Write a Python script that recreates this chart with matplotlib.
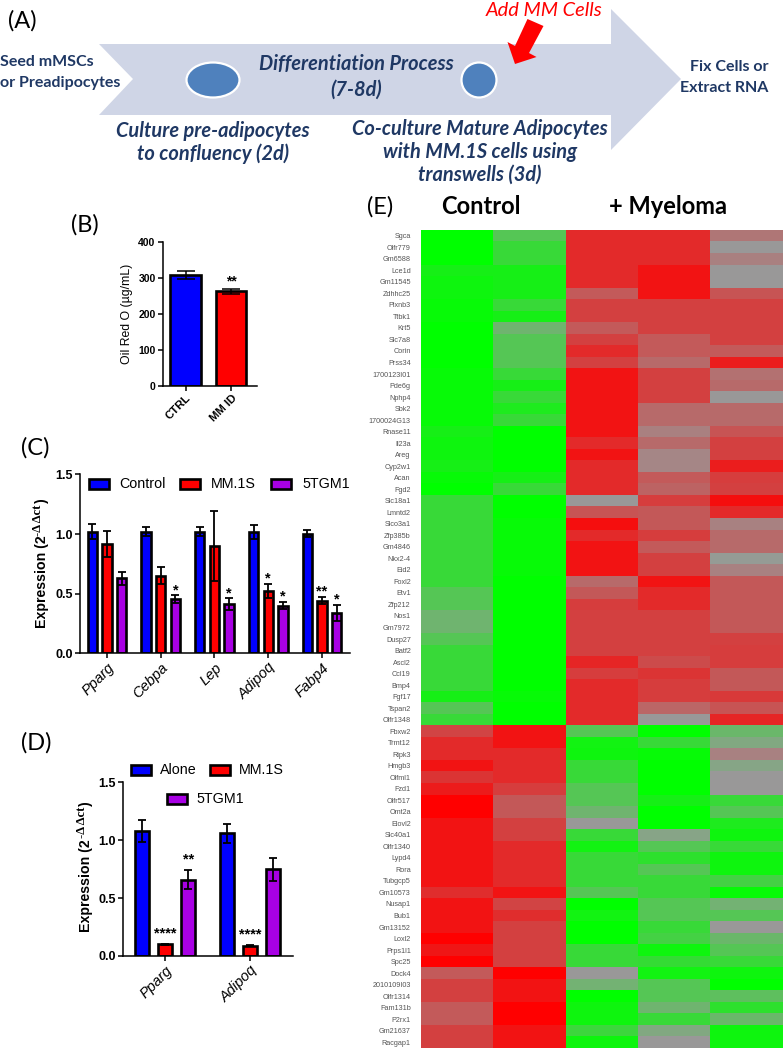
"""Adipocyte / myeloma co-culture figure: schematic, three bar panels and a heatmap."""

import matplotlib
matplotlib.use("Agg")
import matplotlib.pyplot as plt
import numpy as np
from matplotlib.colors import LinearSegmentedColormap
from matplotlib.patches import Ellipse, Polygon, Rectangle

plt.rcParams["font.family"] = ["Liberation Sans", "DejaVu Sans"]

W, H = 783, 1050
BLUE, RED, PURPLE = "#0000FF", "#FF0000", "#A800E4"
NAVY = "#1F3864"

# panel B
b_labels = ["CTRL", "MM ID"]
b_values = [308, 262]
b_errors = [11, 6]

# panel C
c_genes = ["Pparg", "Cebpa", "Lep", "Adipoq", "Fabp4"]
c_series = ["Control", "MM.1S", "5TGM1"]
c_control = [1.02, 1.02, 1.02, 1.02, 1.005]
c_mm1s = [0.92, 0.65, 0.90, 0.52, 0.44]
c_5tgm1 = [0.63, 0.455, 0.41, 0.40, 0.34]
c_control_err = [0.065, 0.04, 0.04, 0.06, 0.03]
c_mm1s_err = [0.11, 0.07, 0.29, 0.06, 0.03]
c_5tgm1_err = [0.055, 0.03, 0.05, 0.03, 0.065]
c_mm1s_stars = ["", "", "", "*", "**"]
c_5tgm1_stars = ["", "*", "*", "*", "*"]

# panel D
d_genes = ["Pparg", "Adipoq"]
d_alone = [1.08, 1.06]
d_mm1s = [0.10, 0.09]
d_5tgm1 = [0.66, 0.75]
d_alone_err = [0.095, 0.08]
d_mm1s_err = [0.005, 0.005]
d_5tgm1_err = [0.085, 0.10]
d_mm1s_stars = ["****", "****"]
d_5tgm1_stars = ["**", ""]

# panel E: positive is red, negative is green, 0 is grey
e_genes = [
    "Sgca", "Olfr779", "Gm6588", "Lce1d", "Gm11545", "Zdhhc25", "Plxnb3", "Ttbk1",
    "Krt5", "Slc7a8", "Corin", "Prss34", "1700123I01", "Pde6g", "Nphp4", "Sbk2",
    "1700024G13", "Rnase11", "Il23a", "Areg", "Cyp2w1", "Acan", "Fgd2", "Slc18a1",
    "Lmntd2", "Slco3a1", "Zfp385b", "Gm4846", "Nkx2-4", "Eid2", "Foxl2", "Etv1",
    "Zfp212", "Nos1", "Gm7972", "Dusp27", "Batf2", "Ascl2", "Ccl19", "Bmp4", "Fgf17",
    "Tspan2", "Olfr1348", "Fbxw2", "Trmt12", "Ripk3", "Hmgb3", "Olfml1", "Fzd1",
    "Olfr517", "Omt2a", "Elovl2", "Slc40a1", "Olfr1340", "Lypd4", "Rora", "Tubgcp5",
    "Gm10573", "Nusap1", "Bub1", "Gm13152", "Loxl2", "Prps1l1", "Spc25", "Dock4",
    "2010109I03", "Olfr1314", "Fam131b", "P2rx1", "Gm21637", "Racgap1",
]
e_matrix = [
    [-1, -.44, .72, .72, .22], [-1, -.63, .72, .72, 0], [-1, -.63, .72, .72, .16],
    [-.85, -.85, .72, .87, 0], [-.9, -.85, .72, .87, 0], [-.9, -.85, .41, .87, .45],
    [-.95, -.63, .575, .575, .575], [-.95, -.85, .575, .575, .575], [-1, -.27, .41, .575, .575],
    [-1, -.44, .575, .41, .575], [-1, -.44, .72, .41, .41], [-1, -.44, .575, .3, .8],
    [-.95, -.63, .87, .575, .25], [-.95, -.85, .87, .575, .3], [-.95, -.63, .87, .575, 0],
    [-.95, -.8, .87, .3, .3], [-.95, -.63, .87, .3, .3], [-.85, -1, .87, .16, .45],
    [-.9, -1, .72, .3, .575], [-.9, -1, .87, .12, .575], [-.85, -1, .72, .12, .8],
    [-.95, -.85, .72, .41, .6], [-1, -.63, .72, .35, .575], [-.63, -1, 0, .6, .9],
    [-.63, -1, .45, .42, .72], [-.63, -.95, .9, .42, .15], [-.63, -.95, .72, .6, .3],
    [-.63, -.95, .87, .41, .3], [-.63, -.95, .87, .575, -.02], [-.63, -.95, .87, .575, .15],
    [-.63, -1, .3, .87, .42], [-.44, -1, .42, .72, .42], [-.44, -1, .6, .72, .42],
    [-.27, -1, .575, .575, .42], [-.27, -1, .575, .575, .42], [-.44, -1, .575, .575, .575],
    [-.63, -1, .575, .575, .6], [-.63, -1, .75, .5, .6], [-.63, -1, .6, .65, .42],
    [-.63, -1, .72, .6, .42], [-.85, -.95, .72, .6, .62], [-.44, -1, .72, .33, .45],
    [-.63, -1, .72, 0, .75], [.55, .87, -.44, -1, -.3], [.72, .87, -.88, -.63, -.15],
    [.72, .72, -.9, -.95, .15], [.87, .72, -.63, -1, -.12], [.65, .72, -.63, -1, 0],
    [.82, .6, -.44, -1, 0], [1, .42, -.44, -.85, -.63], [1, .42, -.27, -1, -.44],
    [.87, .575, 0, -1, -.8], [.87, .575, -.63, -.11, -.9], [.87, .72, -.88, -.44, -.63],
    [.87, .72, -.63, -.7, -.9], [.87, .72, -.63, -.44, -.9], [.87, .72, -.63, -.63, -.55],
    [.7, .87, -.44, -.63, -.95], [.87, .55, -1, -.44, -.25], [.87, .7, -.88, -.44, -.44],
    [.87, .575, -1, -.63, 0], [1, .575, -1, -.55, -.3], [.85, .575, -.63, -.9, -.44],
    [1, .575, -.63, -.65, -.63], [.41, 1, 0, -.88, -.9], [.575, .87, -.25, -.44, -1],
    [.575, .87, -1, -.44, -.38], [.41, 1, -.9, -.27, -.7], [.41, 1, -.9, -.63, -.3],
    [.575, .87, -.6, -.15, -.9], [.575, .87, -.9, 0, -.9],
]


def px_axes(fig, left, top, right, bottom):
    return fig.add_axes([left / W, 1 - bottom / H, (right - left) / W, (bottom - top) / H])


def style_bars(ax, tick_size):
    ax.spines[["top", "right"]].set_visible(False)
    ax.spines[["left", "bottom"]].set_linewidth(1.1)
    ax.tick_params(axis="both", width=1.1, length=3.6, pad=1.5)
    ax.tick_params(axis="y", labelsize=tick_size)
    for t in ax.get_yticklabels():
        t.set_fontweight("bold")


def grouped(ax, values, errors, colors, stars, step_off, width, star_gap):
    for k, (vals, errs, col, st) in enumerate(zip(values, errors, colors, stars)):
        x = np.arange(len(vals)) + (k - 1) * step_off
        ax.bar(x, vals, width, color=col, edgecolor="black", linewidth=1.9)
        ax.errorbar(x, vals, yerr=errs, fmt="none", ecolor="black", elinewidth=1.3,
                    capsize=2.6, capthick=1.3)
        for xi, v, e, s in zip(x, vals, errs, st):
            if s:
                ax.text(xi, v + e + star_gap, s, ha="center", va="center", fontsize=10.5,
                        fontweight="bold")


def main():
    fig = plt.figure(figsize=(W / 100, H / 100), dpi=100)

    # pixel overlay for the schematic, letters and hand-placed legends
    ov = fig.add_axes([0, 0, 1, 1], zorder=5)
    ov.set_xlim(0, W)
    ov.set_ylim(H, 0)
    ov.axis("off")
    ov.patch.set_alpha(0)

    ov.add_patch(Polygon([(99, 44), (611, 44), (611, 9), (681, 79), (611, 150), (611, 115),
                          (99, 115), (133, 79)], closed=True, fc="#CFD5E6", ec="none"))
    ov.add_patch(Ellipse((213, 80), 53, 35, fc="#4F81BD", ec="white", lw=1.6))
    ov.add_patch(Ellipse((479, 80), 35, 35, fc="#4F81BD", ec="white", lw=1.6))
    ov.add_patch(Polygon([(527.5, 19), (543.5, 26), (529, 53), (536.5, 57), (515, 64),
                          (507.5, 42), (515, 46)], closed=True, fc="#FF0000", ec="none"))

    letter = dict(family="Lato", fontsize=17, color="black", va="center")
    ov.text(8, 21, "(A)", **letter)
    ov.text(71, 225, "(B)", **letter)
    ov.text(21, 448, "(C)", **letter)
    ov.text(21, 743, "(D)", **letter)
    ov.text(367, 207, "(E)", **letter)

    ital = dict(family="Lato", fontsize=14.4, color=NAVY, style="italic", fontweight="bold",
                ha="center", va="center")
    plain = dict(family="Lato", fontsize=11.5, color=NAVY, fontweight="bold", va="center")
    ov.text(356, 64, "Differentiation Process", **ital)
    ov.text(356, 90, "(7-8d)", **ital)
    ov.text(213, 131, "Culture pre-adipocytes", **ital)
    ov.text(213, 154, "to confluency (2d)", **ital)
    ov.text(480, 129, "Co-culture Mature Adipocytes", **ital)
    ov.text(480, 152, "with MM.1S cells using", **ital)
    ov.text(480, 175, "transwells (3d)", **ital)
    ov.text(0, 62, "Seed mMSCs", ha="left", **plain)
    ov.text(0, 83, "or Preadipocytes", ha="left", **plain)
    ov.text(768, 67, "Fix Cells or", ha="right", **plain)
    ov.text(768, 88, "Extract RNA", ha="right", **plain)
    ov.text(544, 10, "Add MM Cells", family="Lato", fontsize=14.4, color="#FF0000", style="italic",
            ha="center", va="center")

    # panel B
    ax = px_axes(fig, 162.7, 241.7, 257, 386)
    ax.bar([0, 1], b_values, 0.66, color=[BLUE, RED], edgecolor="black", linewidth=1.9)
    ax.errorbar([0, 1], b_values, yerr=b_errors, fmt="none", ecolor="black", elinewidth=1.1,
                capsize=6.5, capthick=1.1)
    ax.text(1, 289, "**", ha="center", va="center", fontsize=10, fontweight="bold")
    ax.set_xlim(-0.5, 1.56)
    ax.set_ylim(0, 400)
    ax.set_yticks([0, 100, 200, 300, 400])
    ax.set_xticks([0, 1])
    ax.set_xticklabels(b_labels, rotation=45, ha="right", rotation_mode="anchor", fontsize=8.2,
                       fontweight="bold")
    style_bars(ax, 7.5)
    ax.set_ylabel("Oil Red O (µg/mL)", fontsize=8.8, labelpad=4)

    # panel C
    ax = px_axes(fig, 80, 474.5, 350, 653.3)
    grouped(ax, [c_control, c_mm1s, c_5tgm1], [c_control_err, c_mm1s_err, c_5tgm1_err],
            [BLUE, RED, PURPLE], [[""] * 5, c_mm1s_stars, c_5tgm1_stars], 0.273, 0.175, 0.045)
    ax.set_xlim(-0.5, 4.52)
    ax.set_ylim(0, 1.5)
    ax.set_yticks([0, 0.5, 1.0, 1.5])
    ax.set_xticks(range(len(c_genes)))
    ax.set_xticklabels(c_genes, rotation=45, ha="right", rotation_mode="anchor", fontsize=10.5,
                       style="italic")
    style_bars(ax, 9)

    # panel D
    ax = px_axes(fig, 123.3, 782.3, 293, 956)
    grouped(ax, [d_alone, d_mm1s, d_5tgm1], [d_alone_err, d_mm1s_err, d_5tgm1_err],
            [BLUE, RED, PURPLE], [["", ""], d_mm1s_stars, d_5tgm1_stars], 0.275, 0.165, 0.09)
    ax.set_xlim(-0.49, 1.506)
    ax.set_ylim(0, 1.5)
    ax.set_yticks([0, 0.5, 1.0, 1.5])
    ax.set_xticks(range(len(d_genes)))
    ax.set_xticklabels(d_genes, rotation=45, ha="right", rotation_mode="anchor", fontsize=10.5,
                       style="italic")
    style_bars(ax, 9)

    # legends for C and D
    for x, col, lab, tx in zip((89, 180, 271), (BLUE, RED, PURPLE), c_series, (119, 211, 302)):
        ov.add_patch(Rectangle((x, 479), 20, 10, fc=col, ec="black", lw=1.9))
        ov.text(tx, 484, lab, fontsize=10.3, va="center")
    for x, y, col, lab, tx in zip((131, 210, 167), (765, 765, 794), (BLUE, RED, PURPLE),
                                  ("Alone", "MM.1S", "5TGM1"), (160, 239, 196)):
        ov.add_patch(Rectangle((x, y), 20, 10, fc=col, ec="black", lw=1.9))
        ov.text(tx, y + 5, lab, fontsize=10.3, va="center")

    # y labels with the serif superscript
    rot = dict(rotation=90, rotation_mode="anchor", ha="left", va="center")
    sup = dict(family="Liberation Serif", fontsize=9, fontweight="bold", **rot)
    for x, base, top_sup, end in ((42, 628, 536, 501), (86, 932, 838, 804)):
        ov.text(x, base, "Expression (2", fontsize=10.2, fontweight="bold", **rot)
        ov.text(x - 4, top_sup, "-Δ Δct", **sup)
        ov.text(x, end + 2, ")", fontsize=10.2, fontweight="bold", **rot)

    # panel E
    ax = px_axes(fig, 420.5, 230, 782, 1048)
    cmap = LinearSegmentedColormap.from_list("gyr", ["#00FF00", "#999999", "#FF0000"])
    ax.imshow(np.array(e_matrix), cmap=cmap, vmin=-1, vmax=1, aspect="auto",
              interpolation="nearest")
    ax.set_xticks([])
    ax.set_yticks(range(len(e_genes)))
    ax.set_yticklabels(e_genes, fontsize=5.2, color="#555555")
    ax.tick_params(axis="y", length=0, pad=7)
    for s in ax.spines.values():
        s.set_visible(False)

    ov.text(481, 206, "Control", family="Lato", fontsize=17, fontweight="bold", ha="center",
            va="center")
    ov.text(668, 206, "+ Myeloma", family="Lato", fontsize=17, fontweight="bold", ha="center",
            va="center")

    fig.savefig("out.png", dpi=100)


if __name__ == "__main__":
    main()
